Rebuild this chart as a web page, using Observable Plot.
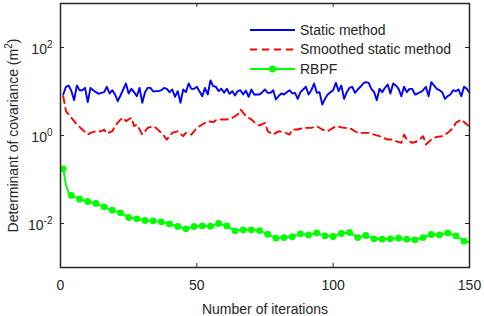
<!DOCTYPE html>
<html>
<head>
<meta charset="utf-8">
<script src="https://cdn.jsdelivr.net/npm/d3@7"></script>
<script src="https://cdn.jsdelivr.net/npm/@observablehq/plot@0.6"></script>
<style>
  html, body { margin: 0; padding: 0; background: #fff; }
  #wrap { position: relative; width: 484px; height: 316px; font-family: "Liberation Sans", Arial, sans-serif; }
  #legend { position: absolute; left: 0; top: 0; pointer-events: none; }
</style>
</head>
<body>
<div id="wrap"></div>
<script>
// ---- data ----
const staticY = [8.55,12.8,13.7,10.2,6.35,13.7,10.7,10.7,12.1,5.72,
12.1,10.7,9.66,8.85,9.33,9.66,12.8,9.01,10.7,8.55,
6.03,8.11,11.1,15.2,9.01,11.5,9.66,7.83,12.1,5.52,
9.66,12.1,12.1,10.0,10.2,10.2,10.7,12.1,11.5,9.66,
11.1,7.56,10.2,5.52,11.1,9.66,15.2,11.5,11.5,12.8,
10.0,7.83,12.1,8.55,17.8,13.2,12.8,10.2,11.5,9.33,
11.5,8.85,10.2,8.11,10.2,10.7,8.55,10.5,7.56,11.1,
8.55,8.55,8.55,9.66,11.1,9.33,9.33,10.7,6.58,7.83,
9.01,8.55,9.66,10.7,9.01,9.33,6.81,9.66,11.1,12.8,
8.55,10.7,15.2,9.33,9.66,5.07,6.81,8.55,9.66,10.7,
15.7,10.2,13.7,6.81,9.66,12.1,12.8,9.33,11.1,12.8,
15.2,16.3,15.7,11.5,9.66,6.35,11.5,9.66,12.1,14.4,
9.01,15.2,13.7,11.5,7.83,12.8,9.66,11.5,11.5,8.55,
9.01,9.66,10.7,12.8,7.83,16.3,13.7,11.5,10.7,9.66,
6.81,7.83,8.55,10.7,10.2,11.1,7.83,12.8,11.5,9.33];

const smoothX = [1,2,4,6,8,10,11,13,15,16,17,19,20,22,23,24,26,27,28,30,32,34,35,37,39,41,43,45,46,48,50,52,54,56,57,59,61,63,65,66,68,70,72,73,75,76,78,80,82,84,85,87,89,90,92,94,96,98,100,101,104,106,108,109,111,113,115,117,120,122,123,125,126,127,129,131,133,134,136,138,140,142,144,145,147,149,150];
const smoothY = [7.83,3.57,2.52,1.78,1.37,1.05,1.15,1.25,1.25,1.37,1.11,1.25,1.63,2.31,2.52,2.12,2.52,1.63,1.78,1.05,1.49,1.63,1.49,1.15,0.81,1.15,1.25,0.966,1.15,1.05,1.49,1.78,2.12,2.01,2.23,2.31,2.31,2.52,3.0,3.9,2.75,2.31,1.78,1.69,1.94,1.25,1.05,1.25,1.19,1.05,1.37,1.37,1.49,1.49,1.49,1.63,1.37,1.25,1.49,1.63,1.49,1.49,1.25,1.15,1.15,1.15,1.05,0.966,0.81,0.81,0.743,0.681,1.05,0.81,0.681,0.743,0.966,0.624,0.81,0.933,0.966,1.15,1.49,1.94,2.31,1.78,1.63];

const rbpfX = [1,2,3,4,7,10,13,16,19,22,25,28,31,34,37,40,43,46,49,52,55,58,61,64,67,70,73,76,79,82,85,88,91,94,97,100,103,106,109,112,115,118,121,124,127,130,133,136,139,142,145,148,150];
const rbpfY = [0.175,0.075,0.05,0.0433,0.0357,0.0316,0.0285,0.0239,0.0201,0.0175,0.0137,0.0128,0.0117,0.0115,0.0109,0.0098,0.00855,0.00757,0.00855,0.00885,0.0087,0.01,0.0088,0.0068,0.0072,0.0072,0.0069,0.0057,0.00464,0.0048,0.005,0.00582,0.0055,0.0061,0.00525,0.00507,0.00593,0.00624,0.0048,0.00533,0.00449,0.0044,0.00449,0.00464,0.0044,0.00425,0.0048,0.00562,0.0055,0.0061,0.00525,0.00396,0.0038];

const xTicks = [0, 50, 100, 150];
const yTicks = [1e-2, 1, 1e2];
const yTickExp = ["-2", "0", "2"];
const seriesNames = ["Static method", "Smoothed static method", "RBPF"];
const seriesColors = ["#0000ff", "#ff0000", "#00ff00"];
const xLabel = "Number of iterations";
const yLabel = "Determinant of covariance (m^{2})";

// ---- build tables ----
const staticData = staticY.map((v, i) => ({x: i + 1, y: v}));
const smoothData = smoothX.map((x, i) => ({x, y: smoothY[i]}));
const rbpfData = rbpfX.map((x, i) => ({x, y: rbpfY[i]}));

const W = 484, H = 316, mL = 60, mR = 15, mT = 3, mB = 49;
const pw = W - mL - mR, ph = H - mT - mB;
const ink = "#262626";
const tl = 4;
const fs = 14;

const chart = Plot.plot({
  width: W, height: H,
  marginLeft: mL, marginRight: mR, marginTop: mT, marginBottom: mB,
  style: {fontFamily: "Liberation Sans, Arial, sans-serif", color: ink, background: "#fff", overflow: "visible"},
  x: {domain: [0, 150], label: null},
  y: {type: "log", domain: [1e-3, 1e3], label: null},
  marks: [
    Plot.axisX({ticks: xTicks, tickSize: 0, tickPadding: 13, fontSize: fs, label: null, tickFormat: d => String(d)}),
    Plot.axisY({ticks: yTicks, tickSize: 0, tickPadding: 8, fontSize: fs, label: null, dy: 2,
      tickFormat: d => "10^{" + yTickExp[yTicks.indexOf(d)] + "}"}),
    Plot.tickX(xTicks, {x: d => d, insetTop: ph - tl, stroke: ink}),
    Plot.tickX(xTicks, {x: d => d, insetBottom: ph - tl, stroke: ink}),
    Plot.tickY(yTicks, {y: d => d, insetRight: pw - tl, stroke: ink}),
    Plot.tickY(yTicks, {y: d => d, insetLeft: pw - tl, stroke: ink}),
    Plot.line(staticData, {x: "x", y: "y", stroke: seriesColors[0], strokeWidth: 1.9}),
    Plot.line(smoothData, {x: "x", y: "y", stroke: seriesColors[1], strokeWidth: 1.9, strokeDasharray: "7,5"}),
    Plot.line(rbpfData, {x: "x", y: "y", stroke: seriesColors[2], strokeWidth: 1.9}),
    Plot.dot(rbpfData.filter(d => d.x % 3 === 1), {x: "x", y: "y", r: 3.4, fill: seriesColors[2], stroke: "none"}),
    Plot.frame({stroke: ink, strokeWidth: 1.5}),
    Plot.text([xLabel], {text: d => d, frameAnchor: "bottom", dy: 42, lineAnchor: "middle", fontSize: fs, fill: ink}),
    Plot.text([yLabel], {text: d => d, frameAnchor: "left", dx: -47, rotate: -90, textAnchor: "middle", lineAnchor: "middle", fontSize: fs, fill: ink})
  ]
});

// superscripts
const NS = "http://www.w3.org/2000/svg";
function supify(t, baseSize, supSize, shift) {
  const m = /^(.*)\^\{(.*?)\}(.*)$/.exec(t.textContent);
  if (!m) return;
  t.textContent = m[1];
  const s = document.createElementNS(NS, "tspan");
  s.setAttribute("dy", -shift);
  s.setAttribute("font-size", supSize);
  s.textContent = m[2];
  t.appendChild(s);
  if (m[3]) {
    const r = document.createElementNS(NS, "tspan");
    r.setAttribute("dy", shift);
    r.setAttribute("font-size", baseSize);
    r.textContent = m[3];
    t.appendChild(r);
  }
}
chart.querySelectorAll("text").forEach(t => { if (t.textContent.includes("^{")) supify(t, fs, 10, 6); });

document.getElementById("wrap").appendChild(chart);

// legend overlay
const lg = d3.select("#wrap").append("svg").attr("id", "legend").attr("width", W).attr("height", H);
const rows = [30, 49.5, 69];
seriesNames.forEach((name, i) => {
  const g = lg.append("g");
  const line = g.append("line").attr("x1", 250).attr("x2", 295).attr("y1", rows[i]).attr("y2", rows[i])
    .attr("stroke", seriesColors[i]).attr("stroke-width", 1.9);
  if (i === 1) line.attr("stroke-dasharray", "7,5");
  if (i === 2) g.append("circle").attr("cx", 272.5).attr("cy", rows[i]).attr("r", 3.4).attr("fill", seriesColors[i]);
  g.append("text").attr("x", 300).attr("y", rows[i]).attr("dy", "0.35em")
    .attr("font-size", fs).attr("fill", ink).attr("font-family", "Liberation Sans, Arial, sans-serif").text(name);
});
</script>
</body>
</html>
